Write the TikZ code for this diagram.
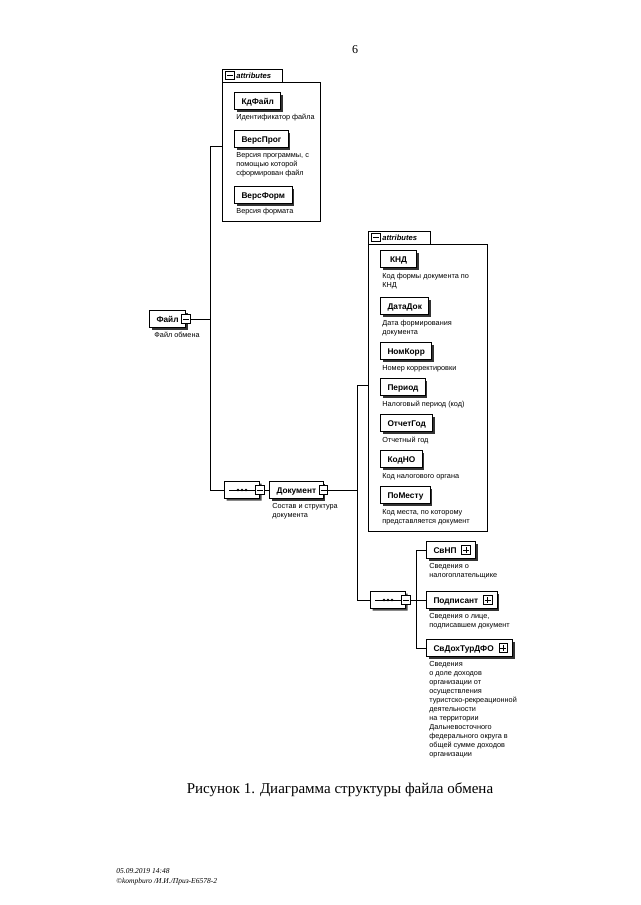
\documentclass[tikz,border=0pt]{standalone}
\usepackage{fontspec}
\setmainfont{Liberation Serif}
\newfontfamily\dfont{Liberation Sans}
\usetikzlibrary{shapes.misc,shadows}
\newcommand\minusat[2]{\node[sq] (#1) at (#2) {};\draw[line width=0.7pt] ([xshift=1.6pt]#1.west) -- ([xshift=-1.6pt]#1.east);}
\newcommand\plusat[2]{\node[sq] (#1) at (#2) {};\draw[line width=0.7pt] ([xshift=1.6pt]#1.west) -- ([xshift=-1.6pt]#1.east);\draw[line width=0.7pt] ([yshift=-1.6pt]#1.north) -- ([yshift=1.6pt]#1.south);}
\newcommand\seqdots[1]{\draw[line width=0.8pt] ([xshift=5pt]#1.west) -- ([xshift=-5pt]#1.east);\foreach \dx in {-4,0,4}{\fill ([xshift=\dx pt]#1.center) circle (1.3pt);}}
\newcommand\gap{\rule{12pt}{0pt}}
\begin{document}
\begin{tikzpicture}[x=1pt,y=-1pt,line width=0.8pt,
  conn/.style={line width=0.8pt},
  abox/.style={line width=0.8pt},
  elem/.style={draw, line width=1pt, fill=white, anchor=west,
    font=\dfont\bfseries\fontsize{8.3}{9}\selectfont,
    text height=6pt, text depth=0pt,
    inner xsep=7pt, inner ysep=0pt, minimum height=17pt, minimum width=36pt,
    drop shadow={shadow xshift=2pt, shadow yshift=-2pt, fill=black!80, opacity=1}},
  desc/.style={anchor=north west, align=left, inner sep=0pt,
    font=\dfont\fontsize{7.3}{9}\selectfont},
  sq/.style={draw, fill=white, line width=0.7pt, minimum size=8.5pt, inner sep=0pt},
  seq/.style={draw, chamfered rectangle, chamfered rectangle xsep=5pt,
    chamfered rectangle ysep=5pt, line width=0.9pt, fill=white,
    minimum width=35pt, minimum height=17pt, inner sep=0pt,
    drop shadow={shadow xshift=2pt, shadow yshift=-2pt, fill=black!70, opacity=1}},
  tabtxt/.style={anchor=west, inner sep=0pt, font=\dfont\bfseries\itshape\fontsize{7.6}{8}\selectfont}
]
\fill[white] (0,0) rectangle (640,905);
\useasboundingbox (0,0) rectangle (640,905);

\node[font=\fontsize{12}{12}\selectfont] (pnum) at (355,50) {6};

% ---------- top attributes box
\draw[abox] (222,69) -- (282,69) -- (282,82) -- (320,82) -- (320,221) -- (222,221) -- cycle;
\draw[abox] (222,82) -- (282,82);
\minusat{tbm}{230,75.5}
\node[tabtxt] (tbt) at (236,75.5) {attributes};
\coordinate (tbc) at (222,146);

\node[elem] (kd) at (234,101) {КдФайл};
\node[desc] (kdd) at (236,114) {Идентификатор файла};
\node[elem] (vp) at (234,139) {ВерсПрог};
\node[desc] (vpd) at (236,152) {Версия программы, с\\помощью которой\\сформирован файл};
\node[elem] (vf) at (234,195) {ВерсФорм};
\node[desc] (vfd) at (236,208) {Версия формата};

% ---------- Файл
\node[elem] (file) at (149,319) {Файл};
\minusat{filem}{file.east}
\node[desc] (filed) at (154,332) {Файл обмена};
\coordinate (busA) at (210,0);

% ---------- sequence 1 and Документ
\node[seq] (seq1) at (242,490) {};
\seqdots{seq1}
\minusat{seq1m}{seq1.east}
\node[elem] (doc) at (269,490) {Документ};
\minusat{docm}{doc.east}
\node[desc] (docd) at (272,503) {Состав и структура\\документа};
\coordinate (busB) at (357,0);

\draw[conn] (filem.east) -- (filem.east -| busA);
\draw[conn] (tbc) -| (seq1.west -| busA) -- (seq1.west);
\draw[conn] (seq1m.east) -- (doc.west);

% ---------- second attributes box
\draw[abox] (368,231) -- (430,231) -- (430,244) -- (487,244) -- (487,531) -- (368,531) -- cycle;
\draw[abox] (368,244) -- (430,244);
\minusat{sbm}{376,237.5}
\node[tabtxt] (sbt) at (382,237.5) {attributes};
\coordinate (sbc) at (368,385);

\node[elem] (knd) at (380,259) {КНД};
\node[desc] (kndd) at (382,273) {Код формы документа по\\КНД};
\node[elem] (dd) at (380,306) {ДатаДок};
\node[desc] (ddd) at (382,320) {Дата формирования\\документа};
\node[elem] (nk) at (380,351) {НомКорр};
\node[desc] (nkd) at (382,365) {Номер корректировки};
\node[elem] (per) at (380,387) {Период};
\node[desc] (perd) at (382,401) {Налоговый период (код)};
\node[elem] (og) at (380,423) {ОтчетГод};
\node[desc] (ogd) at (382,437) {Отчетный год};
\node[elem] (kno) at (380,459) {КодНО};
\node[desc] (knod) at (382,473) {Код налогового органа};
\node[elem] (pm) at (380,495) {ПоМесту};
\node[desc] (pmd) at (382,509) {Код места, по которому\\представляется документ};

% ---------- sequence 2 and children
\node[seq] (seq2) at (388,600) {};
\seqdots{seq2}
\minusat{seq2m}{seq2.east}
\coordinate (busC) at (416,0);

\draw[conn] (docm.east) -- (docm.east -| busB);
\draw[conn] (sbc) -| (seq2.west -| busB) -- (seq2.west);

\node[elem] (svnp) at (426,550) {СвНП\gap};
\plusat{svnpp}{[xshift=-10pt]svnp.east}
\node[desc] (svnpd) at (429,563) {Сведения о\\налогоплательщике};
\node[elem] (pod) at (426,600) {Подписант\gap};
\plusat{podp}{[xshift=-10pt]pod.east}
\node[desc] (podd) at (429,613) {Сведения о лице,\\подписавшем документ};
\node[elem] (svd) at (426,648) {СвДохТурДФО\gap};
\plusat{svdp}{[xshift=-10pt]svd.east}
\node[desc] (svdd) at (429,661) {Сведения\\о доле доходов\\организации от\\осуществления\\туристско-рекреационной\\деятельности\\на территории\\Дальневосточного\\федерального округа в\\общей сумме доходов\\организации};

\draw[conn] (seq2m.east) -- (seq2m.east -| busC);
\draw[conn] (svnp.west) -| (svd.west -| busC) -- (svd.west);
\draw[conn] (pod.west) -- (pod.west -| busC);

% ---------- caption and footer
\node[font=\fontsize{15}{16}\selectfont] (cap) at (340,790) {Рисунок 1. Диаграмма структуры файла обмена};
\node[anchor=west, align=left, inner sep=0pt, font=\itshape\fontsize{7.5}{10}\selectfont] (foot) at (116,877) {05.09.2019 14:48\\©kompburo /И.И./Приз-E6578-2};
\end{tikzpicture}
\end{document}
